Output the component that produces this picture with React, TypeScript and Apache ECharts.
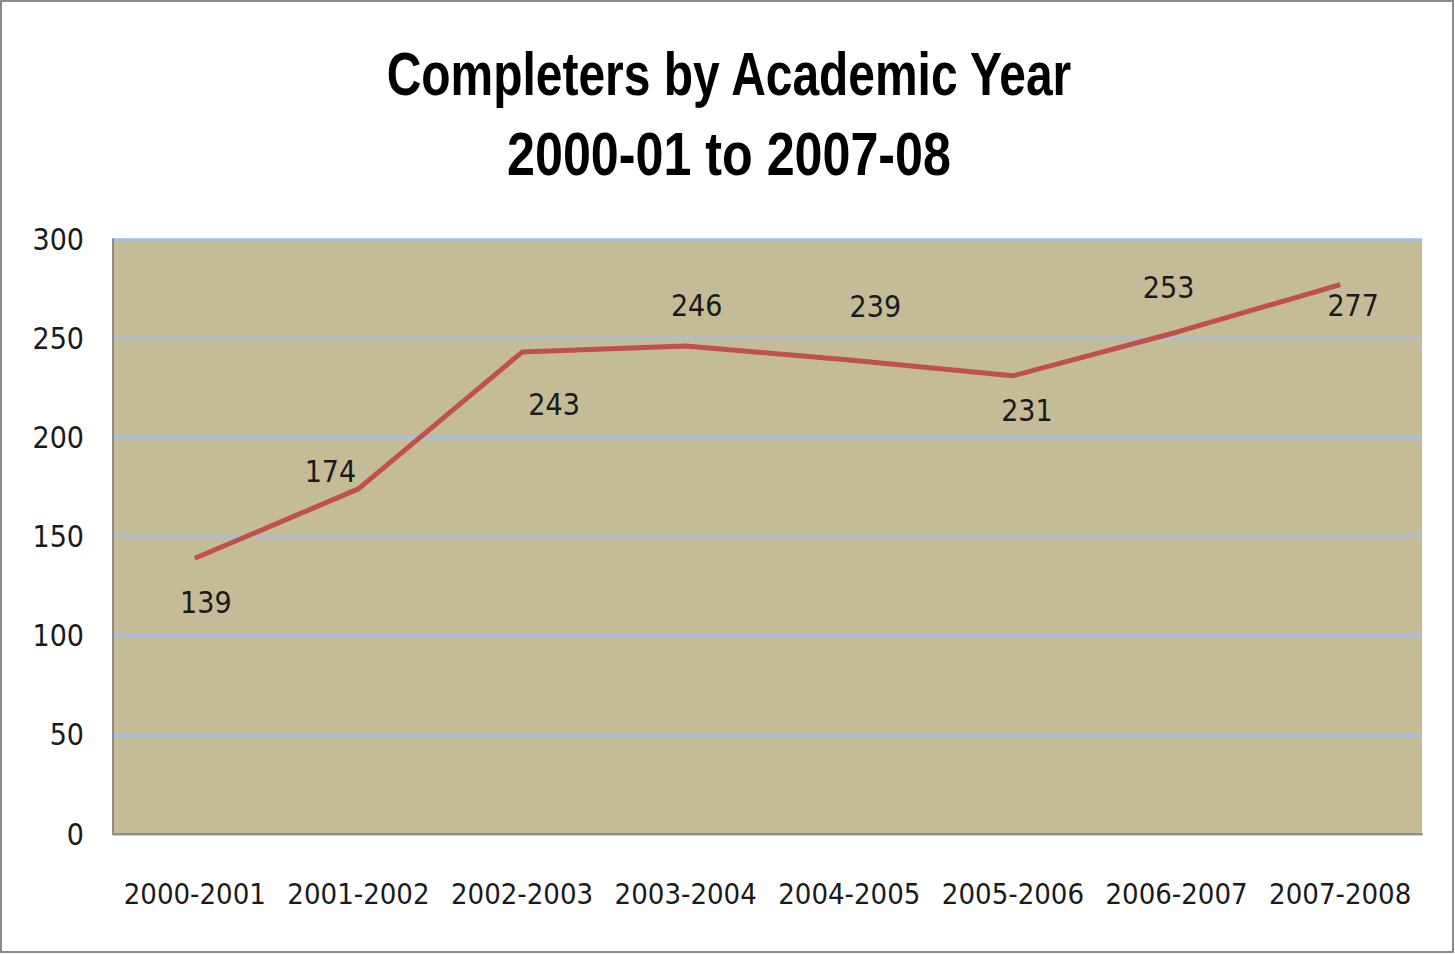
import React, { useEffect, useRef } from "react";
import * as echarts from "echarts";

const categories = [
  "2000-2001",
  "2001-2002",
  "2002-2003",
  "2003-2004",
  "2004-2005",
  "2005-2006",
  "2006-2007",
  "2007-2008",
];
const completers = [139, 174, 243, 246, 239, 231, 253, 277];
const yTicks = [0, 50, 100, 150, 200, 250, 300];
const titleLines = ["Completers by Academic Year", "2000-01 to 2007-08"];

// label offsets (style only)
const labelOffsets: [number, number][] = [
  [11, 44],
  [-28, -17],
  [32, 52],
  [11, -41],
  [26, -53],
  [14, 35],
  [-8, -45],
  [13, 21],
];

const FONT = "'DejaVu Sans Condensed', 'Liberation Sans', Arial, sans-serif";
const TFONT = "'Liberation Sans', Arial, sans-serif";

export default function App() {
  const ref = useRef<HTMLDivElement>(null);
  useEffect(() => {
    document.body.style.margin = "0";
    if (!ref.current) return;
    const chart = echarts.init(ref.current, undefined, { renderer: "svg" });
    chart.setOption({
      animation: false,
      backgroundColor: "#ffffff",
      graphic: [
        {
          type: "rect",
          shape: { x: 1, y: 1, width: 1452, height: 951 },
          style: { fill: "none", stroke: "#8a8a8a", lineWidth: 2 },
          silent: true,
          z: -1,
        },
        ...titleLines.map((t, i) => ({
          type: "text",
          x: 729,
          y: 74 + i * 80,
          scaleX: i === 0 ? 0.773 : 0.81,
          style: {
            text: t,
            fontFamily: TFONT,
            fontWeight: "bold",
            fontSize: 62,
            fill: "#000000",
            textAlign: "center",
            textVerticalAlign: "middle",
          },
        })),
      ],
      grid: {
        left: 113,
        right: 33,
        top: 239,
        bottom: 120,
        show: true,
        backgroundColor: "#C4BC97",
        borderWidth: 0,
      },
      xAxis: {
        type: "category",
        data: categories,
        boundaryGap: true,
        axisLine: { show: true, lineStyle: { color: "#8c8c8c", width: 2 } },
        axisTick: { show: false },
        axisLabel: {
          fontFamily: FONT,
          fontSize: 29,
          color: "#1a1a1a",
          margin: 45,
          interval: 0,
        },
      },
      yAxis: {
        type: "value",
        min: yTicks[0],
        max: yTicks[yTicks.length - 1],
        interval: yTicks[1] - yTicks[0],
        axisLine: { show: true, lineStyle: { color: "#8c8c8c", width: 2 } },
        axisTick: { show: false },
        axisLabel: {
          fontFamily: FONT,
          fontSize: 30,
          color: "#1a1a1a",
          margin: 29,
        },
        splitLine: { show: true, lineStyle: { color: "#A3BEEA", width: 2.5 } },
      },
      series: [
        {
          type: "line",
          data: completers.map((v, i) => ({
            value: v,
            label: { offset: labelOffsets[i] },
          })),
          symbol: "circle",
          symbolSize: 2,
          itemStyle: { color: "rgba(0,0,0,0)" },
          lineStyle: { color: "#C0504D", width: 5 },
          label: {
            show: true,
            position: "inside",
            fontFamily: FONT,
            fontSize: 30,
            color: "#1a1a1a",
          },
        },
      ],
    });
    return () => chart.dispose();
  }, []);
  return <div ref={ref} style={{ width: 1455, height: 954 }} />;
}
